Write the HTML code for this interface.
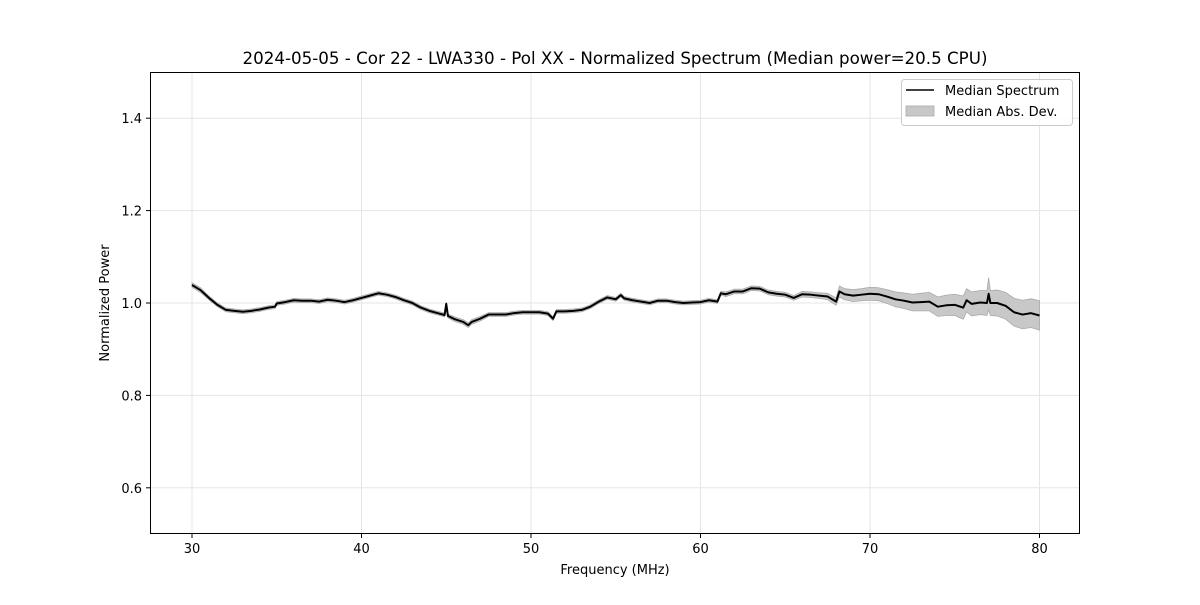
<!DOCTYPE html>
<html><head><meta charset="utf-8">
<style>
body{margin:0;background:#fff;}
svg text{font-family:"DejaVu Sans","Liberation Sans",sans-serif;fill:#000;}
</style></head>
<body>
<svg id="chart" width="1200" height="600" xmlns="http://www.w3.org/2000/svg">
<rect width="1200" height="600" fill="#fff"/>
<text x="615" y="64" font-size="16.7" text-anchor="middle">2024-05-05 - Cor 22 - LWA330 - Pol XX - Normalized Spectrum (Median power=20.5 CPU)</text>
<g id="grid"></g>
<g id="band"></g>
<g id="line"></g>
<rect x="150.5" y="72.5" width="929" height="461" fill="none" stroke="#000" stroke-width="1"/>
<g id="axes"></g>
<text x="615" y="574" font-size="13" text-anchor="middle">Frequency (MHz)</text>
<text transform="translate(109,303) rotate(-90)" font-size="13" text-anchor="middle">Normalized Power</text>
<g>
<rect x="901.5" y="79.5" width="171" height="46" rx="3" fill="#fff" fill-opacity="0.8" stroke="#ccc"/>
<line x1="906" y1="90" x2="934" y2="90" stroke="#000" stroke-width="1.5"/>
<text x="945" y="95" font-size="13">Median Spectrum</text>
<rect x="906" y="106" width="28" height="10" fill="#c8c8c8" stroke="#aaa" stroke-width="0.8"/>
<text x="945" y="116" font-size="13">Median Abs. Dev.</text>
</g>
</svg>
<script>
const freqs=[30,30.5,31,31.5,32,32.5,33,33.5,34,34.5,34.9,35,35.5,36,36.5,37,37.5,38,38.5,39,39.5,40,40.5,41,41.5,42,42.5,43,43.5,44,44.5,44.9,45,45.1,45.5,46,46.3,46.5,47,47.5,48,48.5,49,49.5,50,50.5,51,51.3,51.5,52,52.5,53,53.5,54,54.5,55,55.3,55.5,56,56.5,57,57.5,58,58.5,59,59.5,60,60.5,61,61.2,61.5,62,62.5,63,63.5,64,64.5,65,65.5,66,66.5,67,67.5,68,68.2,68.5,69,69.5,70,70.5,71,71.5,72,72.5,73,73.5,74,74.5,75,75.5,75.7,76,76.5,76.9,77,77.1,77.5,78,78.5,79,79.5,80];
const power=[1.039,1.028,1.011,0.996,0.985,0.983,0.981,0.983,0.986,0.99,0.992,0.999,1.002,1.006,1.005,1.005,1.003,1.007,1.005,1.002,1.006,1.011,1.016,1.021,1.018,1.013,1.006,1.0,0.99,0.983,0.978,0.974,0.998,0.972,0.965,0.959,0.952,0.959,0.966,0.975,0.975,0.975,0.978,0.98,0.98,0.98,0.977,0.966,0.982,0.982,0.983,0.985,0.992,1.003,1.012,1.008,1.017,1.01,1.006,1.003,1.0,1.005,1.005,1.002,1.0,1.001,1.002,1.006,1.003,1.021,1.019,1.025,1.025,1.032,1.031,1.023,1.02,1.018,1.011,1.019,1.018,1.016,1.014,1.003,1.025,1.019,1.016,1.018,1.02,1.019,1.014,1.008,1.005,1.001,1.002,1.003,0.992,0.995,0.996,0.99,1.006,0.998,1.001,1.0,1.02,1.0,1.0,0.994,0.98,0.975,0.978,0.973];
const mad=[0.005,0.005,0.004,0.004,0.004,0.004,0.004,0.004,0.004,0.004,0.004,0.004,0.004,0.004,0.004,0.004,0.004,0.004,0.004,0.004,0.004,0.004,0.004,0.004,0.004,0.004,0.004,0.004,0.004,0.004,0.004,0.004,0.004,0.004,0.005,0.005,0.005,0.005,0.005,0.004,0.004,0.004,0.004,0.004,0.004,0.004,0.004,0.004,0.004,0.004,0.004,0.004,0.004,0.004,0.004,0.004,0.004,0.004,0.004,0.004,0.004,0.004,0.004,0.004,0.004,0.004,0.004,0.004,0.004,0.004,0.005,0.005,0.005,0.005,0.005,0.005,0.005,0.005,0.005,0.006,0.006,0.006,0.007,0.008,0.012,0.012,0.013,0.013,0.014,0.014,0.015,0.016,0.017,0.018,0.019,0.02,0.021,0.022,0.023,0.025,0.025,0.026,0.026,0.027,0.035,0.027,0.028,0.029,0.03,0.031,0.031,0.032];
const xTicks=[30,40,50,60,70,80];
const yTicks=[0.6,0.8,1.0,1.2,1.4];
const xTickLabels=["30","40","50","60","70","80"];
const yTickLabels=["0.6","0.8","1.0","1.2","1.4"];
const NS="http://www.w3.org/2000/svg";
const X=f=>192+(f-30)*16.95;
const Y=v=>534-(v-0.5)*462;
function mk(t,a,parent){const e=document.createElementNS(NS,t);for(const k in a)e.setAttribute(k,a[k]);parent.appendChild(e);return e;}
const grid=document.getElementById('grid'),axes=document.getElementById('axes');
xTicks.forEach((t,i)=>{const x=X(t);
 const g=mk('line',{x1:x,x2:x,y1:72,y2:534,stroke:'#e5e5e5','stroke-width':1},grid);
 
 
 const tk=mk('line',{x1:x,x2:x,y1:534,y2:538,stroke:'#000'},axes);
 
 
 const lb=mk('text',{x:x,y:553,'font-size':13,'text-anchor':'middle'},axes);lb.textContent=xTickLabels[i];
 
 
});
yTicks.forEach((t,i)=>{const y=Y(t);
 const g=mk('line',{x1:150,x2:1080,y1:y,y2:y,stroke:'#e5e5e5','stroke-width':1},grid);
 
 
 const tk=mk('line',{x1:146,x2:150,y1:y,y2:y,stroke:'#000'},axes);
 
 
 const lb=mk('text',{x:142,y:y+5,'font-size':13,'text-anchor':'end'},axes);lb.textContent=yTickLabels[i];
 
 
});
let up=freqs.map((f,i)=>X(f)+','+Y(power[i]+mad[i]));
let dn=freqs.map((f,i)=>X(f)+','+Y(power[i]-mad[i])).reverse();
const band=mk('polygon',{points:up.concat(dn).join(' '),fill:'#c8c8c8',stroke:'#aaa','stroke-width':0.8},document.getElementById('band'));


const line=mk('polyline',{points:freqs.map((f,i)=>X(f)+','+Y(power[i])).join(' '),fill:'none',stroke:'#000','stroke-width':2,'stroke-linejoin':'round'},document.getElementById('line'));


</script>
</body></html>
